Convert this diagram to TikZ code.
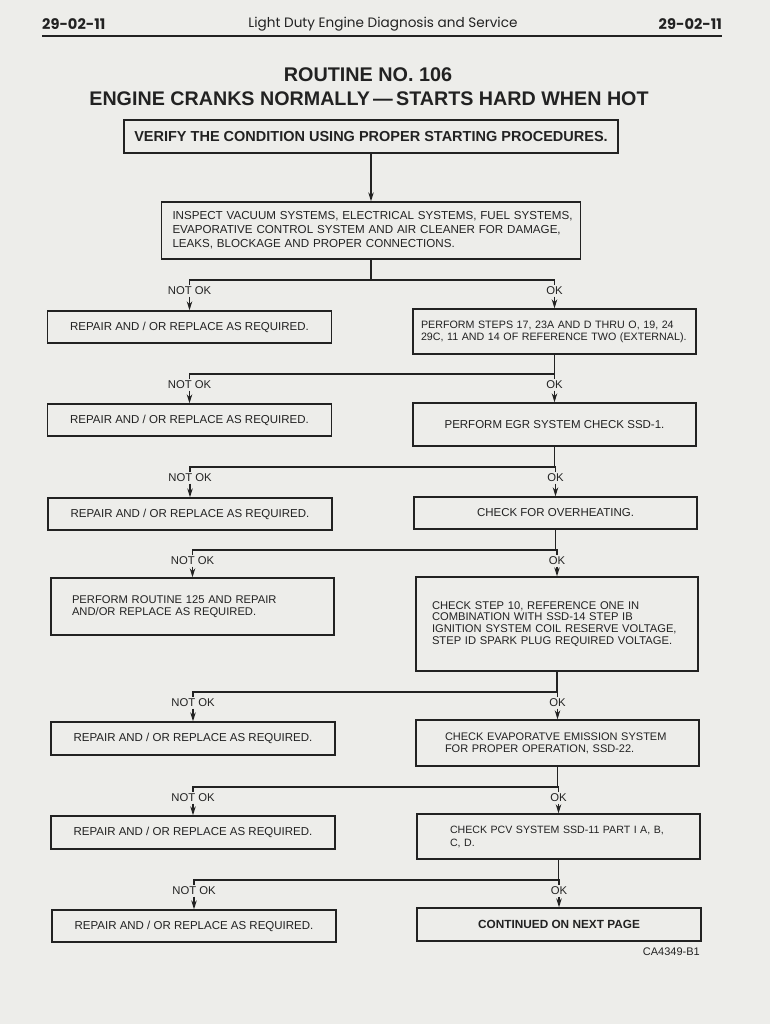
\documentclass[tikz,border=0pt]{standalone}
\usepackage{fontspec}
\setmainfont{Liberation Sans}
\newfontfamily\headfont{Poppins}
\usetikzlibrary{arrows.meta,positioning}
\definecolor{paper}{RGB}{237,237,234}
\definecolor{ink}{RGB}{34,34,34}
\newcommand{\boxfont}{\fontsize{11.5}{12.5}\selectfont}
\newcommand{\repairtxt}{REPAIR AND / OR REPLACE AS REQUIRED.}
\tikzset{
  stepbox/.style  = {draw=ink, line width=1.4pt, inner sep=0pt, font=\boxfont, text=ink},
  leftbox/.style  = {stepbox, align=left},
  repairbox/.style = {stepbox, minimum width=284pt, minimum height=32pt},
  flowline/.style = {draw=ink, line width=1.1pt},
  flowarr/.style  = {flowline, -{Stealth[length=9pt,width=5.5pt]}},
  tag/.style      = {font=\fontsize{11.3}{12}\selectfont, text=ink, inner sep=1.5pt}
}

\begin{document}
\begin{tikzpicture}[x=1pt,y=-1pt]
  \fill[paper] (0,0) rectangle (770,1024);
  \useasboundingbox (0,0) rectangle (770,1024);
  % --- page header
  \node[anchor=west, inner sep=0pt, text=ink, font=\headfont\bfseries\fontsize{14.6}{15}\selectfont] (pgl) at (42,24) {29-02-11};
  \node[text=ink, font=\headfont\fontsize{13.6}{14}\selectfont] (pgt) at (383,24) {Light Duty Engine Diagnosis and Service};
  \node[anchor=east, inner sep=0pt, text=ink, font=\headfont\bfseries\fontsize{14.6}{15}\selectfont] (pgr) at (722,24) {29-02-11};
  \draw[ink, line width=1.8pt] (42,36) -- (722,36);
  % --- title
  \node[text=ink, font=\bfseries\fontsize{19.8}{21}\selectfont] (ttl) at (368,75) {ROUTINE NO. 106};
  \node[text=ink, font=\bfseries\fontsize{19.7}{21}\selectfont] (sub) at (369,99)
       {ENGINE CRANKS NORMALLY\,—\,STARTS HARD WHEN HOT};
  % --- top of the chart
  \node[stepbox, font=\bfseries\fontsize{14.5}{15}\selectfont, minimum width=494pt, minimum height=33pt]
       (b1) at (371,136.5) {VERIFY THE CONDITION USING PROPER STARTING PROCEDURES.};
  \node[leftbox, font=\fontsize{11.6}{14}\selectfont, text width=397pt, inner xsep=11pt, minimum height=57pt]
       (b2) at (371,230.5) {\mbox{INSPECT VACUUM SYSTEMS, ELECTRICAL SYSTEMS, FUEL SYSTEMS,}\\
        \mbox{EVAPORATIVE CONTROL SYSTEM AND AIR CLEANER FOR DAMAGE,}\\
        LEAKS, BLOCKAGE AND PROPER CONNECTIONS.};
  \draw[flowarr] (b1.south) -- (b2.north);
  % --- left column: not ok
  \node[repairbox] (l1) at (189.5,327) {\repairtxt};
  \node[repairbox] (l2) at (189.5,420) {\repairtxt};
  \node[repairbox] (l3) at (190,514) {\repairtxt};
  \node[leftbox, font=\fontsize{11.2}{12}\selectfont, text width=241pt, inner xsep=21pt, minimum height=57pt]
       (l4) at (192.5,606.5) {PERFORM ROUTINE 125 AND REPAIR\\AND/OR REPLACE AS REQUIRED.};
  \node[repairbox, minimum height=33pt] (l5) at (193,738.5) {\repairtxt};
  \node[repairbox, minimum height=33pt] (l6) at (193,832.5) {\repairtxt};
  \node[repairbox] (l7) at (194,926) {\repairtxt};
  % --- right column: ok
  \node[leftbox, font=\fontsize{10.7}{12}\selectfont, text width=267pt, inner xsep=8pt, minimum height=45pt]
       (r1) at (554.5,331.5) {\mbox{PERFORM STEPS 17, 23A AND D THRU O, 19, 24}\\
        \mbox{29C, 11 AND 14 OF REFERENCE TWO (EXTERNAL).}};
  \node[stepbox, minimum width=283pt, minimum height=43pt] (r2) at (554.5,424.5) {PERFORM EGR SYSTEM CHECK SSD-1.};
  \node[stepbox, minimum width=283pt, minimum height=32pt] (r3) at (555.5,513) {CHECK FOR OVERHEATING.};
  \node[leftbox, font=\fontsize{11.2}{11.8}\selectfont, text width=250pt, inner xsep=16pt, minimum height=94pt]
       (r4) at (557,624) {CHECK STEP 10, REFERENCE ONE IN\\COMBINATION WITH SSD-14 STEP IB\\
        \mbox{IGNITION SYSTEM COIL RESERVE VOLTAGE,}\\\mbox{STEP ID SPARK PLUG REQUIRED VOLTAGE.}};
  \node[leftbox, font=\fontsize{11}{12}\selectfont, text width=225pt, inner xsep=29pt, minimum height=46pt]
       (r5) at (557.5,743) {\mbox{CHECK EVAPORATVE EMISSION SYSTEM}\\FOR PROPER OPERATION, SSD-22.};
  \node[leftbox, font=\fontsize{10.6}{13}\selectfont, text width=217pt, inner xsep=33pt, minimum height=45pt]
       (r6) at (558.5,836.5) {\mbox{CHECK PCV SYSTEM SSD-11 PART I A, B,}\\C, D.};
  \node[stepbox, font=\bfseries\fontsize{11.8}{13}\selectfont, minimum width=284pt, minimum height=33pt]
       (r7) at (559,924.5) {CONTINUED ON NEXT PAGE};
  % --- branches
  \foreach \src/\i/\y in {b2/1/280, r1/2/374, r2/3/467, r3/4/550, r4/5/692, r5/6/787, r6/7/880} {
    \coordinate (j\i) at (\src.south |- 0,\y);
    \node[tag] (n\i) at (l\i.north |- 0,\y+11) {NOT OK};
    \node[tag] (o\i) at (r\i.north |- 0,\y+11) {OK};
    \draw[flowline] (\src.south) -- (j\i);
    \draw[flowline] (j\i) -| (n\i.north);
    \draw[flowline] (j\i) -| (o\i.north);
    \draw[flowarr] (n\i.south) -- (l\i.north);
    \draw[flowarr] (o\i.south) -- (r\i.north);
  }
  \node[anchor=east, inner sep=0pt, text=ink, font=\fontsize{11}{12}\selectfont] (fig) at (700,952) {CA4349-B1};
\end{tikzpicture}
\end{document}
